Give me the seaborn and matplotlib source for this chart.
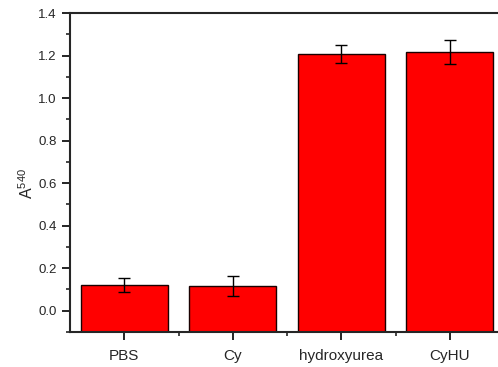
import matplotlib
matplotlib.use("Agg")
import matplotlib.pyplot as plt
import seaborn as sns
import pandas as pd
from matplotlib.ticker import MultipleLocator

categories = ["PBS", "Cy", "hydroxyurea", "CyHU"]
values = [0.12, 0.117, 1.208, 1.216]
errors = [0.033, 0.046, 0.043, 0.055]

sns.set_style("ticks")
plt.rcParams['font.family'] = ['Liberation Sans', 'DejaVu Sans']
plt.rcParams['mathtext.fontset'] = 'custom'
plt.rcParams['mathtext.rm'] = 'Liberation Sans'
plt.rcParams['mathtext.it'] = 'Liberation Sans:italic'
plt.rcParams['mathtext.bf'] = 'Liberation Sans:bold'

df = pd.DataFrame({"group": categories, "A540": values})

fig = plt.figure(figsize=(4.98, 3.67), dpi=100)
ax = fig.add_axes([70/498, 35/367, 434/498, 319/367])

ymin = -0.1
sns.barplot(data=df, x="group", y="A540", color="#ff0000", saturation=1,
            edgecolor="#1a0000", linewidth=1.0, width=0.8, errorbar=None, ax=ax)
# Origin-style bars rise from the bottom of the axis
for p in ax.patches:
    top = p.get_y() + p.get_height()
    p.set_y(ymin)
    p.set_height(top - ymin)

ax.errorbar(range(len(categories)), values, yerr=errors, fmt="none",
            ecolor="black", elinewidth=1.0, capsize=4, capthick=1.0, zorder=5)

ax.set_xlim(-0.5, 3.5)
ax.set_ylim(ymin, 1.4)
ax.yaxis.set_major_locator(MultipleLocator(0.2))
ax.yaxis.set_minor_locator(MultipleLocator(0.1))
ax.set_xticks(range(len(categories)))
ax.set_xticklabels(categories)
ax.set_xticks([0.5, 1.5, 2.5], minor=True)
ax.yaxis.set_major_formatter(matplotlib.ticker.FormatStrFormatter('%.1f'))

ax.set_xlabel("")
ax.set_ylabel(r"A$^{\mathrm{540}}$", fontsize=11.5)
ax.yaxis.set_label_coords(-0.078, 0.466)

for s in ["left", "bottom", "top"]:
    ax.spines[s].set_visible(True)
    ax.spines[s].set_linewidth(1.5)
ax.spines["right"].set_visible(False)

ax.tick_params(axis="both", which="major", direction="out", length=6, width=1.2,
               color="black")
ax.tick_params(axis="y", which="major", labelsize=9.5)
ax.tick_params(axis="x", which="major", labelsize=11, pad=6)
ax.tick_params(axis="both", which="minor", direction="out", length=3, width=1.2)
ax.tick_params(axis="x", which="both", top=False)

fig.savefig("out.png", dpi=100)
